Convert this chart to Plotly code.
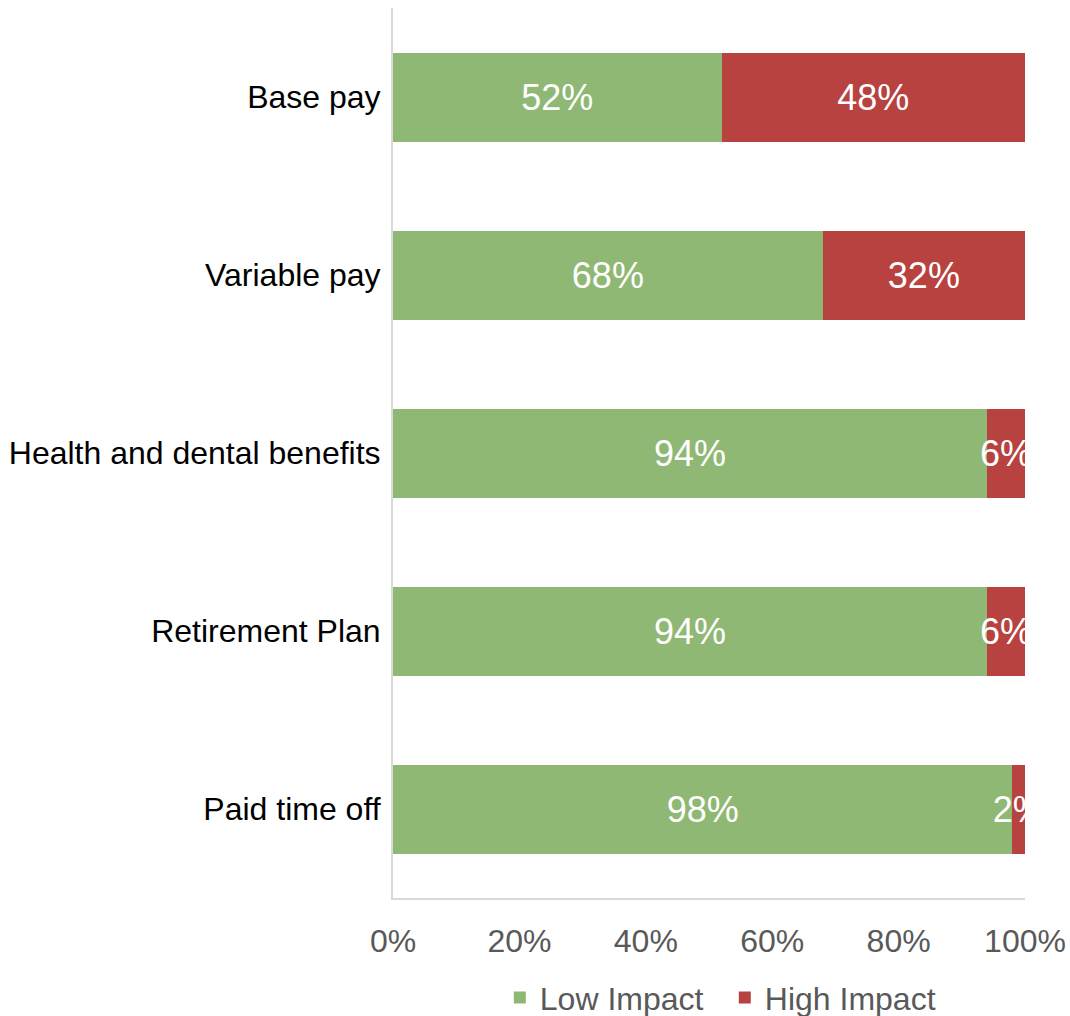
import plotly.graph_objects as go

categories = ["Base pay", "Variable pay", "Health and dental benefits", "Retirement Plan", "Paid time off"]
low_impact = [52, 68, 94, 94, 98]
high_impact = [48, 32, 6, 6, 2]
x_ticks = [0, 20, 40, 60, 80, 100]
x_tick_labels = ["0%", "20%", "40%", "60%", "80%", "100%"]

GREEN = "#8FB874"
RED = "#B7423F"
GRID = "#D9D9D9"
FONT = "Liberation Sans, Arial, sans-serif"

fig = go.Figure()
for name, vals, color in [("Low Impact", low_impact, GREEN), ("High Impact", high_impact, RED)]:
    fig.add_trace(go.Bar(
        name=name,
        y=categories,
        x=vals,
        orientation="h",
        marker=dict(color=color, line=dict(width=0)),
        width=0.5,
        text=[f"{v}%" for v in vals],
        textposition="inside",
        insidetextanchor="middle",
        textangle=0,
        constraintext="none",
        cliponaxis=True,
        textfont=dict(color="white", size=36, family=FONT),
        hoverinfo="x+y+name",
    ))

fig.update_layout(
    barmode="stack",
    width=1070,
    height=1016,
    margin=dict(l=393, r=45, t=8, b=118, autoexpand=False),
    paper_bgcolor="white",
    plot_bgcolor="white",
    font=dict(family=FONT, color="#595959", size=32),
    showlegend=True,
    legend=dict(
        orientation="h",
        x=0.525,
        xanchor="center",
        yref="container",
        y=0.018,
        yanchor="middle",
        font=dict(size=32, color="#595959", family=FONT),
        itemwidth=30,
        entrywidth=180,
        traceorder="normal",
    ),
    bargap=0.5,
)

fig.update_xaxes(
    range=[0, 100],
    tickvals=x_ticks,
    ticktext=x_tick_labels,
    showgrid=False,
    zeroline=False,
    showline=True,
    linecolor=GRID,
    linewidth=2,
    ticks="",
    ticklabelstandoff=14,
    automargin=False,
    tickfont=dict(size=32, color="#595959", family=FONT),
    fixedrange=True,
)

fig.update_yaxes(
    categoryorder="array",
    categoryarray=categories[::-1],
    showgrid=False,
    zeroline=False,
    showline=True,
    linecolor=GRID,
    linewidth=2,
    ticks="",
    ticklabelstandoff=4,
    automargin=False,
    tickfont=dict(size=32, color="black", family=FONT),
    fixedrange=True,
)

fig.write_html("out.html")
